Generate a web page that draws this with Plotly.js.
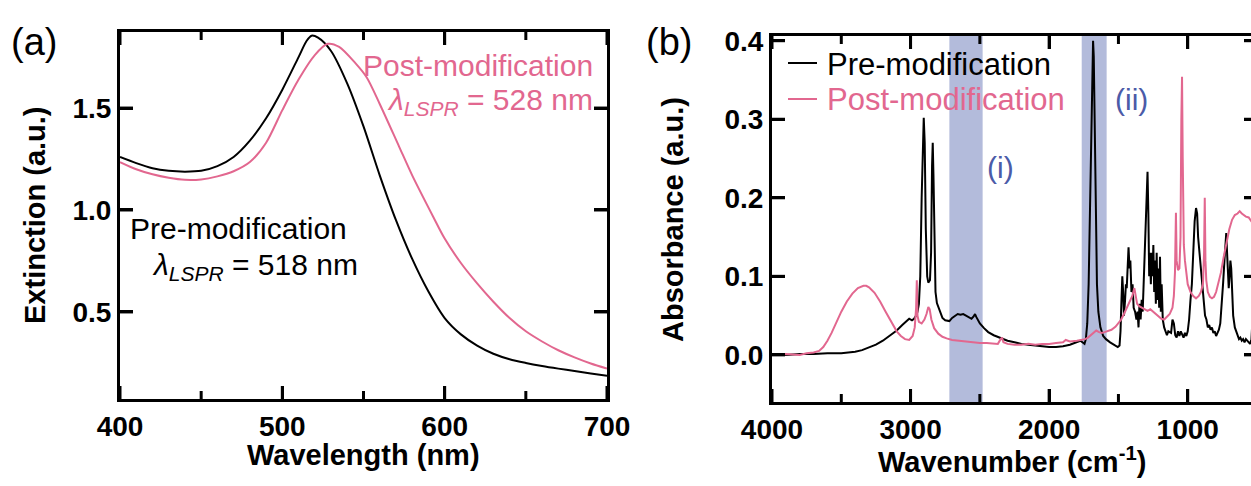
<!DOCTYPE html>
<html>
<head>
<meta charset="utf-8">
<script src="https://cdn.plot.ly/plotly-3.0.1.min.js"></script>
<style>
html,body{margin:0;padding:0;overflow:hidden;background:#fff;}
#chart{width:1262px;height:486px;}
</style>
</head>
<body>
<div id="chart"></div>
<script>
// ---------- Panel (a): extinction spectra ----------
const wlPre = [400,410,420,430,440,450,460,470,480,490,500,510,515,518,522,530,540,550,560,570,580,590,600,610,620,630,640,650,660,670,680,690,700];
const extPre = [1.26,1.23,1.205,1.192,1.188,1.192,1.215,1.26,1.34,1.45,1.59,1.75,1.83,1.855,1.845,1.78,1.62,1.41,1.17,0.95,0.76,0.60,0.47,0.39,0.335,0.295,0.268,0.25,0.235,0.222,0.21,0.198,0.187];
const wlPost = [400,410,420,430,440,450,460,470,480,490,500,510,520,528,535,545,552,560,572,580,593,600,610,620,630,640,650,660,670,680,690,700];
const extPost = [1.235,1.2,1.175,1.158,1.148,1.15,1.165,1.19,1.235,1.33,1.49,1.64,1.76,1.815,1.80,1.72,1.65,1.52,1.31,1.17,0.966,0.86,0.74,0.64,0.55,0.47,0.405,0.355,0.312,0.277,0.247,0.222];

// ---------- Panel (b): FTIR spectra ----------
const wnPre = [4000,3900,3800,3700,3600,3500,3450,3400,3350,3300,3250,3200,3150,3100,3060,3030,3010,2990,2975,2960,2950,2940,2930,2920,2910,2905,2898,2890,2880,2872,2860,2852,2845,2840,2835,2828,2820,2810,2790,2770,2750,2720,2700,2680,2660,2640,2620,2600,2580,2560,2545,2535,2525,2500,2470,2440,2400,2350,2300,2250,2200,2150,2100,2050,2000,1950,1900,1850,1800,1775,1760,1745,1735,1725,1715,1705,1695,1688,1683,1678,1672,1665,1655,1645,1630,1610,1590,1560,1530,1505,1492,1485,1478,1472,1466,1460,1452,1446,1440,1432,1427,1420,1414,1406,1398,1390,1380,1370,1362,1355,1348,1340,1332,1325,1318,1310,1300,1290,1284,1278,1272,1266,1260,1254,1248,1242,1236,1230,1224,1218,1212,1206,1200,1194,1188,1180,1170,1160,1150,1140,1120,1110,1100,1090,1080,1070,1060,1050,1040,1030,1020,1010,1000,990,980,970,960,950,940,932,925,915,905,895,885,875,865,855,845,835,825,815,805,795,785,775,765,755,745,735,728,722,716,710,704,698,692,686,680,672,660,650,640,630,620,610,600,590,580,570,560,550,540,530,520,510,500];
const absPre = [0.000,0.000,0.001,0.001,0.002,0.002,0.003,0.004,0.006,0.009,0.013,0.018,0.024,0.031,0.038,0.043,0.046,0.044,0.046,0.050,0.055,0.065,0.10,0.20,0.29,0.302,0.27,0.16,0.10,0.092,0.095,0.13,0.24,0.27,0.23,0.12,0.08,0.066,0.055,0.047,0.044,0.043,0.047,0.050,0.052,0.051,0.052,0.050,0.048,0.046,0.049,0.052,0.048,0.040,0.034,0.029,0.025,0.021,0.018,0.016,0.014,0.013,0.012,0.011,0.010,0.010,0.011,0.013,0.016,0.018,0.016,0.014,0.020,0.040,0.090,0.19,0.32,0.385,0.400,0.38,0.30,0.18,0.09,0.055,0.035,0.024,0.020,0.016,0.013,0.010,0.012,0.030,0.070,0.100,0.080,0.050,0.070,0.090,0.085,0.125,0.137,0.110,0.120,0.080,0.090,0.060,0.055,0.045,0.055,0.035,0.065,0.045,0.070,0.055,0.090,0.110,0.180,0.233,0.180,0.100,0.130,0.090,0.130,0.100,0.140,0.080,0.120,0.065,0.130,0.070,0.110,0.060,0.125,0.055,0.090,0.045,0.035,0.030,0.025,0.030,0.028,0.045,0.040,0.025,0.022,0.030,0.024,0.030,0.025,0.022,0.028,0.024,0.030,0.045,0.070,0.090,0.130,0.170,0.187,0.180,0.150,0.130,0.110,0.090,0.070,0.050,0.045,0.035,0.038,0.032,0.035,0.028,0.030,0.024,0.028,0.032,0.040,0.060,0.090,0.120,0.150,0.155,0.130,0.090,0.085,0.100,0.120,0.110,0.080,0.050,0.035,0.030,0.025,0.020,0.022,0.018,0.020,0.016,0.020,0.018,0.015,0.014,0.020,0.050,0.090,0.100,0.100];

const wnPost = [4000,3900,3800,3750,3700,3660,3630,3600,3570,3540,3500,3460,3420,3380,3340,3320,3300,3260,3220,3180,3140,3100,3070,3040,3010,2985,2970,2960,2955,2950,2940,2920,2900,2885,2872,2862,2850,2830,2800,2770,2740,2700,2650,2600,2550,2500,2450,2400,2370,2350,2340,2330,2300,2250,2200,2150,2100,2050,2000,1950,1900,1880,1850,1800,1770,1740,1720,1700,1680,1660,1640,1620,1600,1580,1550,1520,1500,1480,1460,1440,1420,1400,1385,1375,1365,1350,1330,1310,1290,1270,1250,1230,1210,1190,1170,1150,1130,1110,1100,1092,1085,1080,1070,1060,1052,1046,1041,1036,1028,1020,1010,1000,980,960,940,920,905,890,882,877,872,866,855,840,825,810,795,780,760,740,720,700,680,660,640,625,610,595,580,560,540,520,500];
const absPost = [0.000,0.001,0.000,0.002,0.003,0.005,0.010,0.018,0.028,0.040,0.055,0.068,0.078,0.085,0.088,0.088,0.086,0.079,0.068,0.055,0.042,0.030,0.024,0.020,0.019,0.024,0.035,0.060,0.095,0.050,0.042,0.040,0.045,0.052,0.061,0.058,0.045,0.034,0.027,0.023,0.021,0.019,0.018,0.017,0.016,0.015,0.015,0.014,0.014,0.020,0.022,0.016,0.014,0.013,0.013,0.014,0.013,0.014,0.014,0.015,0.016,0.019,0.017,0.018,0.019,0.020,0.022,0.025,0.027,0.031,0.029,0.028,0.029,0.030,0.032,0.036,0.040,0.045,0.052,0.060,0.068,0.075,0.085,0.072,0.065,0.062,0.060,0.058,0.056,0.058,0.055,0.052,0.048,0.046,0.045,0.048,0.052,0.060,0.075,0.105,0.181,0.120,0.108,0.110,0.150,0.300,0.354,0.250,0.140,0.120,0.100,0.090,0.080,0.075,0.072,0.075,0.080,0.090,0.130,0.200,0.120,0.095,0.080,0.074,0.072,0.074,0.080,0.090,0.105,0.125,0.145,0.160,0.172,0.178,0.180,0.183,0.180,0.178,0.176,0.175,0.170,0.165,0.160];

const bandI = [2720, 2480];
const bandII = [1765, 1585];

const xTicksA = [400,500,600,700];
const xMinorA = [450,550,650];
const yTicksA = [0.5,1.0,1.5];
const xTicksB = [4000,3000,2000,1000];
const xMinorB = [3500,2500,1500,500];
const yTicksB = [0.0,0.1,0.2,0.3,0.4];
const legendNames = ['Pre-modification', 'Post-modification'];

// ---------- Layout helpers ----------
const W = 1262, H = 486;
const fx = p => p / W;
const fy = p => 1 - p / H;

const PINK = '#e2678f';
const BLUE = '#4b5ba8';
const BAND = '#b3bbdb';
const FONT = '"Liberation Sans", Arial, Helvetica, sans-serif';

// plot-area pixel boxes [left, right, top, bottom] and axis ranges
const boxA = [120, 607, 32, 399], xRangeA = [400, 700], yRangeA = [0.073, 1.873];
const boxB = [772, 1257, 36, 402], xRangeB = [4000, 500], yRangeB = [-0.06, 0.406];
const MAJ = 13, MIN = 8, TW = 3;

// inward, mirrored tick marks built from the tick arrays as line segments on each subplot
function tickTrace(xa, ya, box, xr, yr, xMaj, xMin, yMaj) {
  const pw = box[1] - box[0], ph = box[3] - box[2];
  const ux = (xr[1] - xr[0]) / pw, uy = (yr[1] - yr[0]) / ph;
  const X = [], Y = [];
  const addX = (vals, len) => vals.forEach(v => {
    X.push(v, v, null, v, v, null);
    Y.push(yr[0], yr[0] + len * uy, null, yr[1], yr[1] - len * uy, null);
  });
  addX(xMaj, MAJ); addX(xMin, MIN);
  yMaj.forEach(v => {
    X.push(xr[0], xr[0] + MAJ * ux, null, xr[1], xr[1] - MAJ * ux, null);
    Y.push(v, v, null, v, v, null);
  });
  return {x: X, y: Y, xaxis: xa, yaxis: ya, mode: 'lines', line: {color: '#000', width: TW}, connectgaps: false, showlegend: false, hoverinfo: 'skip', cliponaxis: true};
}

const traces = [
  tickTrace('x', 'y', boxA, xRangeA, yRangeA, xTicksA, xMinorA, yTicksA),
  tickTrace('x2', 'y2', boxB, xRangeB, yRangeB, xTicksB, xMinorB, yTicksB),
  {x: wlPre, y: extPre, xaxis: 'x', yaxis: 'y', mode: 'lines', line: {color: '#000', width: 2, shape: 'spline', smoothing: 0.8}, showlegend: false, hoverinfo: 'skip'},
  {x: wlPost, y: extPost, xaxis: 'x', yaxis: 'y', mode: 'lines', line: {color: PINK, width: 2, shape: 'spline', smoothing: 0.8}, showlegend: false, hoverinfo: 'skip'},
  {x: wnPre, y: absPre, xaxis: 'x2', yaxis: 'y2', mode: 'lines', name: legendNames[0], line: {color: '#000', width: 2}, showlegend: false},
  {x: wnPost, y: absPost, xaxis: 'x2', yaxis: 'y2', mode: 'lines', name: legendNames[1], line: {color: PINK, width: 2}, showlegend: false}
];

const tickFont = {family: FONT, size: 28, color: '#000', weight: 'bold'};
function axis(extra) {
  return Object.assign({
    showline: true, linewidth: 3, linecolor: '#000', mirror: 'ticks',
    ticks: 'inside', ticklen: MAJ, tickwidth: TW, tickcolor: '#000',
    showgrid: false, zeroline: false, tickfont: tickFont
  }, extra);
}

const layout = {
  width: W, height: H,
  margin: {l: 0, r: 0, t: 0, b: 0},
  paper_bgcolor: '#fff', plot_bgcolor: '#fff',
  font: {family: FONT, color: '#000'},
  showlegend: false,
  xaxis: axis({
    domain: [fx(boxA[0]), fx(boxA[1])], range: xRangeA, anchor: 'y',
    tickmode: 'array', tickvals: xTicksA
  }),
  yaxis: axis({
    domain: [fy(boxA[3]), fy(boxA[2])], range: yRangeA, anchor: 'x',
    tickmode: 'array', tickvals: yTicksA, tickformat: '.1f'
  }),
  xaxis2: axis({
    domain: [fx(boxB[0]), fx(boxB[1])], range: xRangeB, anchor: 'y2',
    tickmode: 'array', tickvals: xTicksB
  }),
  yaxis2: axis({
    domain: [fy(boxB[3]), fy(boxB[2])], range: yRangeB, anchor: 'x2',
    tickmode: 'array', tickvals: yTicksB, tickformat: '.1f'
  }),
  shapes: [
    {type: 'rect', xref: 'x2', yref: 'y2 domain', x0: bandI[0], x1: bandI[1], y0: 0, y1: 1, fillcolor: BAND, line: {width: 0}, layer: 'below'},
    {type: 'rect', xref: 'x2', yref: 'y2 domain', x0: bandII[0], x1: bandII[1], y0: 0, y1: 1, fillcolor: BAND, line: {width: 0}, layer: 'below'},
    {type: 'line', xref: 'paper', yref: 'paper', x0: fx(788), x1: fx(817), y0: fy(63), y1: fy(63), line: {color: '#000', width: 2}},
    {type: 'line', xref: 'paper', yref: 'paper', x0: fx(788), x1: fx(817), y0: fy(99), y1: fy(99), line: {color: PINK, width: 2}}
  ],
  annotations: [
    {xref: 'paper', yref: 'paper', x: fx(825), y: fy(64), text: legendNames[0], showarrow: false, font: {family: FONT, size: 31, color: '#000'}, xanchor: 'left', yanchor: 'middle'},
    {xref: 'paper', yref: 'paper', x: fx(825), y: fy(100), text: legendNames[1], showarrow: false, font: {family: FONT, size: 31, color: PINK}, xanchor: 'left', yanchor: 'middle'},
    {xref: 'paper', yref: 'paper', x: fx(34), y: fy(42), text: '(a)', showarrow: false, font: {family: FONT, size: 38, color: '#000'}, xanchor: 'center', yanchor: 'middle'},
    {xref: 'paper', yref: 'paper', x: fx(669), y: fy(42), text: '(b)', showarrow: false, font: {family: FONT, size: 38, color: '#000'}, xanchor: 'center', yanchor: 'middle'},
    {xref: 'paper', yref: 'paper', x: fx(363), y: fy(455), text: 'Wavelength (nm)', showarrow: false, font: {family: FONT, size: 29, color: '#000', weight: 'bold'}, xanchor: 'center', yanchor: 'middle'},
    {xref: 'paper', yref: 'paper', x: fx(35), y: fy(215), text: 'Extinction (a.u.)', textangle: -90, showarrow: false, font: {family: FONT, size: 29, color: '#000', weight: 'bold'}, xanchor: 'center', yanchor: 'middle'},
    {xref: 'paper', yref: 'paper', x: fx(1012), y: fy(460), text: 'Wavenumber (cm<sup>-1</sup>)', showarrow: false, font: {family: FONT, size: 29, color: '#000', weight: 'bold'}, xanchor: 'center', yanchor: 'middle'},
    {xref: 'paper', yref: 'paper', x: fx(673), y: fy(220), text: 'Absorbance (a.u.)', textangle: -90, showarrow: false, font: {family: FONT, size: 29, color: '#000', weight: 'bold'}, xanchor: 'center', yanchor: 'middle'},
    {xref: 'paper', yref: 'paper', x: fx(595), y: fy(65), text: 'Post-modification', showarrow: false, font: {family: FONT, size: 30, color: PINK}, xanchor: 'right', yanchor: 'middle'},
    {xref: 'paper', yref: 'paper', x: fx(595), y: fy(101), text: '<i>λ</i><sub><i>LSPR</i></sub> = 528 nm', showarrow: false, font: {family: FONT, size: 30, color: PINK}, xanchor: 'right', yanchor: 'middle'},
    {xref: 'paper', yref: 'paper', x: fx(128), y: fy(228), text: 'Pre-modification', showarrow: false, font: {family: FONT, size: 30, color: '#000'}, xanchor: 'left', yanchor: 'middle'},
    {xref: 'paper', yref: 'paper', x: fx(150), y: fy(266), text: '<i>λ</i><sub><i>LSPR</i></sub> = 518 nm', showarrow: false, font: {family: FONT, size: 30, color: '#000'}, xanchor: 'left', yanchor: 'middle'},
    {xref: 'paper', yref: 'paper', x: fx(1000), y: fy(167), text: '(i)', showarrow: false, font: {family: FONT, size: 30, color: BLUE}, xanchor: 'center', yanchor: 'middle'},
    {xref: 'paper', yref: 'paper', x: fx(1131), y: fy(99), text: '(ii)', showarrow: false, font: {family: FONT, size: 30, color: BLUE}, xanchor: 'center', yanchor: 'middle'}
  ]
};

Plotly.newPlot('chart', traces, layout, {displayModeBar: false});
</script>
</body>
</html>
